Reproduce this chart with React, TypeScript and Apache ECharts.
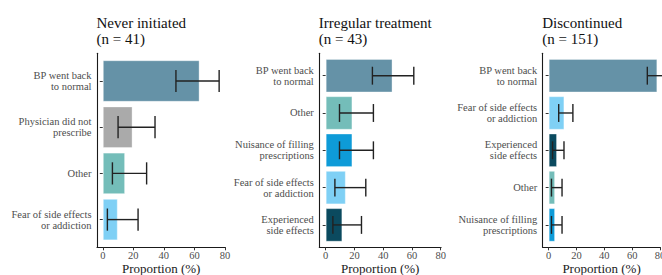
import React, { useEffect, useRef } from "react";
import * as echarts from "echarts";

// ---------- data ----------
const titles = ["Never initiated\n(n = 41)", "Irregular treatment\n(n = 43)", "Discontinued\n(n = 151)"];

const neverCategories = ["BP went back\nto normal", "Physician did not\nprescribe", "Other", "Fear of side effects\nor addiction"];
const neverValues = [63.4, 19.5, 14.6, 9.8];
const neverLow = [47.9, 10.0, 6.3, 3.0];
const neverHigh = [76.2, 34.2, 28.7, 23.1];

const irregularCategories = ["BP went back\nto normal", "Other", "Nuisance of filling\nprescriptions", "Fear of side effects\nor addiction", "Experienced\nside effects"];
const irregularValues = [46.5, 18.6, 18.6, 14.0, 11.6];
const irregularLow = [32.5, 9.6, 9.6, 6.4, 5.0];
const irregularHigh = [61.3, 33.2, 33.2, 27.9, 24.9];

const discontinuedCategories = ["BP went back\nto normal", "Fear of side effects\nor addiction", "Experienced\nside effects", "Other", "Nuisance of filling\nprescriptions"];
const discontinuedValues = [78.1, 11.3, 6.0, 4.6, 4.6];
const discontinuedLow = [70.9, 7.2, 2.8, 2.0, 2.0];
const discontinuedHigh = [84.3, 17.4, 11.0, 9.6, 9.6];

const xTicks = [0, 20, 40, 60, 80];

// ---------- styles ----------
const reasonColors: Record<string, string> = {
  "BP went back\nto normal": "#6592a7",
  "Physician did not\nprescribe": "#aaaaaa",
  "Other": "#74bdb9",
  "Fear of side effects\nor addiction": "#7fd0f5",
  "Nuisance of filling\nprescriptions": "#0e9bd8",
  "Experienced\nside effects": "#0b4a5f",
};

const panels = [
  { cats: neverCategories, vals: neverValues, low: neverLow, high: neverHigh },
  { cats: irregularCategories, vals: irregularValues, low: irregularLow, high: irregularHigh },
  { cats: discontinuedCategories, vals: discontinuedValues, low: discontinuedLow, high: discontinuedHigh },
];

const layout = [
  { left: 97, width: 128.4, min: -3.8, max: 80.3 },
  { left: 319.3, width: 121.8, min: -4.45, max: 80.3 },
  { left: 542.7, width: 117.7, min: -4.3, max: 80.3 },
];

const AX_TOP = 53.3;
const AX_H = 194;
const FONT = "'Liberation Serif', 'Times New Roman', serif";

export default function App() {
  const ref = useRef<HTMLDivElement>(null);
  useEffect(() => {
    if (!ref.current) return;
    const chart = echarts.init(ref.current, undefined, { renderer: "svg" });
    const grid: any[] = [];
    const xAxis: any[] = [];
    const yAxis: any[] = [];
    const series: any[] = [];
    const title: any[] = [];

    panels.forEach((p, i) => {
      const L = layout[i];
      const n = p.cats.length;
      const band = AX_H / (n - 1 + 1.2);
      const inset = 0.1 * band;
      grid.push({ left: L.left, width: L.width, top: AX_TOP + inset, height: AX_H - 2 * inset, containLabel: false, outerBoundsMode: "none" });
      grid.push({ left: L.left, width: L.width, top: AX_TOP, height: AX_H, containLabel: false, outerBoundsMode: "none" });

      xAxis.push({
        type: "value", gridIndex: 2 * i, min: L.min, max: L.max, show: false,
      });
      xAxis.push({
        type: "value", gridIndex: 2 * i + 1, min: L.min, max: L.max,
        axisLine: { show: true, onZero: false, lineStyle: { color: "#1a1a1a", width: 1.1 } },
        axisTick: { show: true, length: 3, customValues: xTicks, lineStyle: { color: "#333", width: 1 } },
        axisLabel: { customValues: xTicks, margin: 3, color: "#4d4d4d", fontFamily: FONT, fontSize: 10.5, lineHeight: 10 },
        splitLine: { show: false },
        name: "Proportion (%)", nameLocation: "middle", nameGap: 14.5, nameMoveOverlap: false,
        nameTextStyle: { color: "#1a1a1a", fontFamily: FONT, fontSize: 13, lineHeight: 13 },
      });
      yAxis.push({
        type: "category", gridIndex: 2 * i, data: p.cats, inverse: true,
        axisLine: { show: false },
        axisTick: { show: true, length: 3, alignWithLabel: true, lineStyle: { color: "#333", width: 1 } },
        axisLabel: { margin: 5.5, color: "#4d4d4d", fontFamily: FONT, fontSize: 10.5, lineHeight: 11, align: "right" },
      });
      yAxis.push({
        type: "value", gridIndex: 2 * i + 1, min: 0, max: 1,
        axisLine: { show: true, onZero: false, lineStyle: { color: "#1a1a1a", width: 1.1 } },
        axisTick: { show: false }, axisLabel: { show: false }, splitLine: { show: false },
      });

      series.push({
        type: "bar", xAxisIndex: 2 * i, yAxisIndex: 2 * i, barCategoryGap: "10%",
        data: p.vals.map((v, k) => ({
          value: v,
          itemStyle: { color: reasonColors[p.cats[k]], borderColor: "rgba(255,255,255,0.35)", borderWidth: 1 },
        })),
      });
      series.push({
        type: "custom", xAxisIndex: 2 * i, yAxisIndex: 2 * i, clip: false, z: 5,
        data: p.low.map((lo, k) => [lo, p.high[k], k]),
        encode: { x: [0, 1], y: 2 },
        renderItem: (params: any, api: any) => {
          const lo = api.coord([api.value(0), api.value(2)]);
          const hi = api.coord([api.value(1), api.value(2)]);
          const bh = api.size([0, 1])[1];
          const h = bh * 0.24;
          const st = { stroke: "#222", lineWidth: 1.4, fill: null };
          return {
            type: "group",
            children: [
              { type: "line", shape: { x1: lo[0], y1: lo[1], x2: hi[0], y2: hi[1] }, style: st },
              { type: "line", shape: { x1: lo[0], y1: lo[1] - h, x2: lo[0], y2: lo[1] + h }, style: st },
              { type: "line", shape: { x1: hi[0], y1: hi[1] - h, x2: hi[0], y2: hi[1] + h }, style: st },
            ],
          };
        },
      });

      title.push({
        text: titles[i], left: L.left - 0.5, top: 14.3, padding: 0,
        textStyle: { color: "#111", fontFamily: FONT, fontSize: 15, lineHeight: 16.6, fontWeight: "normal" },
      });
    });

    chart.setOption({ animation: false, title, grid, xAxis, yAxis, series });
    return () => chart.dispose();
  }, []);
  return <div ref={ref} style={{ position: "fixed", left: 0, top: 0, width: 662, height: 275, background: "#fff" }} />;
}
